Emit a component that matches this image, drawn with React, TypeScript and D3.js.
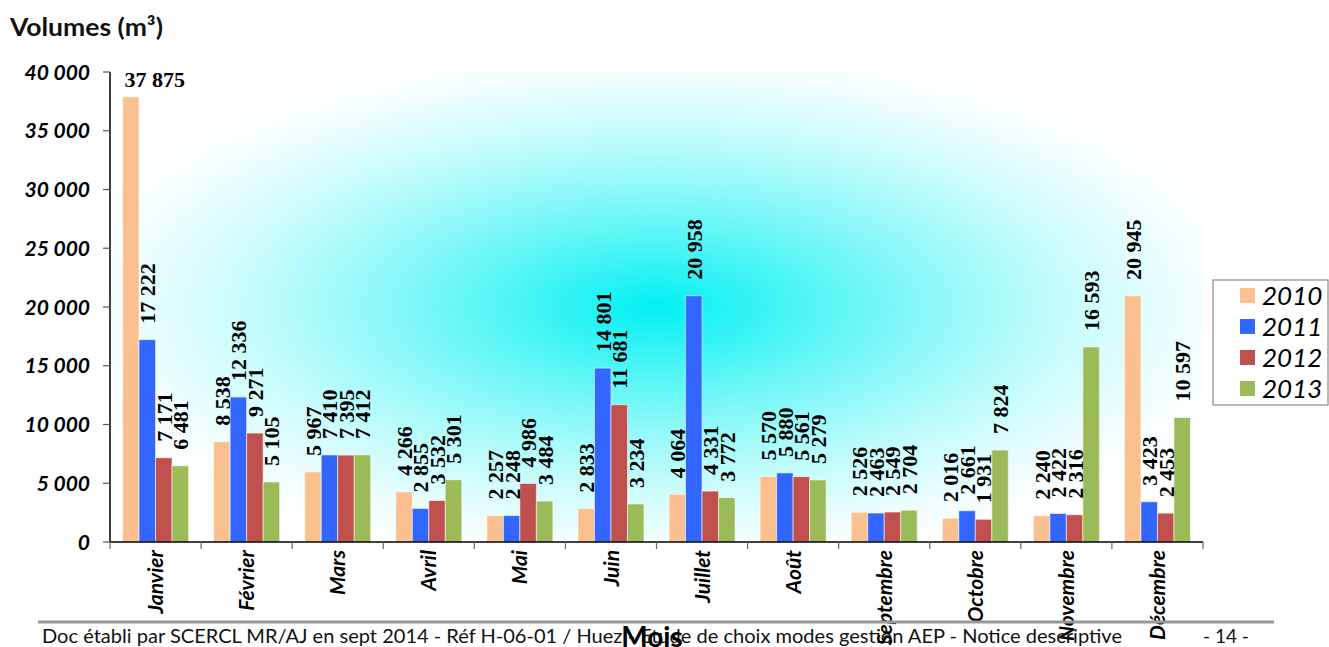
import React from "react";
import * as d3 from "d3";

// Monthly volumes (m³) per year
const months = ["Janvier", "Février", "Mars", "Avril", "Mai", "Juin", "Juillet", "Août", "Septembre", "Octobre", "Novembre", "Décembre"];
const years = ["2010", "2011", "2012", "2013"];
const v2010 = [37875, 8538, 5967, 4266, 2257, 2833, 4064, 5570, 2526, 2016, 2240, 20945];
const v2011 = [17222, 12336, 7410, 2855, 2248, 14801, 20958, 5880, 2463, 2661, 2422, 3423];
const v2012 = [7171, 9271, 7395, 3532, 4986, 11681, 4331, 5561, 2549, 1931, 2316, 2453];
const v2013 = [6481, 5105, 7412, 5301, 3484, 3234, 3772, 5279, 2704, 7824, 16593, 10597];
const yTicks = [0, 5000, 10000, 15000, 20000, 25000, 30000, 35000, 40000];
const seriesColors = ["#FAC090", "#3366FF", "#C0504D", "#9BBB59"];

const yTitle = "Volumes (m³)";
const xTitle = "Mois";
const footerText = "Doc établi par SCERCL MR/AJ en sept 2014 - Réf H-06-01 / Huez - Etude de choix modes gestion AEP - Notice descriptive";
const pageText = "- 14 -";

const series = [v2010, v2011, v2012, v2013];

const SANS = "Lato, 'Open Sans', sans-serif";
const SERIF = "'Liberation Serif', 'Times New Roman', serif";

const W = 1329;
const H = 647;
const plot = { left: 110, right: 1203, top: 72, bottom: 542 };

const fr = d3.formatLocale({ decimal: ",", thousands: " ", grouping: [3], currency: ["", " €"] });
const fmt = fr.format(",d");

export default function App() {
  const x = d3.scaleBand<string>().domain(months).range([plot.left, plot.right]).paddingInner(0).paddingOuter(0);
  const xi = d3.scaleBand<string>().domain(years).range([0, x.bandwidth()]).paddingInner(0).paddingOuter(0.76);
  const y = d3.scaleLinear().domain([0, 40000]).range([plot.bottom, plot.top]);

  const cyan = "#00F0F2";
  const mix = d3.interpolateRgb(cyan, "#ffffff");
  // centre-to-edge falloff of the plot-area fill
  const stops = d3.range(0, 11).map((i) => {
    const t = i / 10; // 0 = centre, 1 = edge
    return { offset: t, color: mix(1 - Math.pow(1 - t, 1.35)) };
  });

  const labelFont = 22;
  const labelGap = 16;

  return (
    <svg width={W} height={H} style={{ position: "absolute", left: 0, top: 0, background: "#fff" }}>
      <defs>
        <radialGradient id="plotFill" cx="0.5" cy="0.5" r="0.56" gradientUnits="objectBoundingBox">
          {stops.map((s, i) => (
            <stop key={i} offset={s.offset} stopColor={s.color} />
          ))}
        </radialGradient>
      </defs>

      {/* plot background */}
      <rect x={plot.left} y={plot.top} width={plot.right - plot.left} height={plot.bottom - plot.top} fill="url(#plotFill)" />

      {/* title */}
      <text x={10} y={36} fontFamily={SANS} fontWeight="bold" fontSize={24} textLength={153} lengthAdjust="spacingAndGlyphs" fill="#111">{yTitle}</text>

      {/* bars */}
      {months.map((m, mi) => (
        <g key={m} transform={`translate(${x(m)},0)`}>
          {years.map((yr, si) => {
            const v = series[si][mi];
            const bx = xi(yr)!;
            return (
              <rect key={yr} x={bx} y={y(v)} width={xi.bandwidth()} height={plot.bottom - y(v)} fill={seriesColors[si]} stroke="rgba(255,255,255,0.55)" strokeWidth={1} />
            );
          })}
        </g>
      ))}

      {/* value labels */}
      {months.map((m, mi) => (
        <g key={m + "-l"}>
          {years.map((yr, si) => {
            const v = series[si][mi];
            const bx = x(m)! + xi(yr)!;
            const bc = bx + xi.bandwidth() / 2;
            const top = y(v) - labelGap;
            const label = fmt(v);
            const approxLen = label.length * labelFont * 0.47;
            if (top - approxLen < plot.top) {
              return (
                <text key={yr} x={bx + 2} y={y(v) - 10} fontFamily={SERIF} fontWeight="bold" fontSize={labelFont} fill="#000">{label}</text>
              );
            }
            return (
              <text key={yr} transform={`translate(${bc},${top}) rotate(-90)`} dy="0.36em" fontFamily={SERIF} fontWeight="bold" fontSize={labelFont} fill="#000">{label}</text>
            );
          })}
        </g>
      ))}

      {/* y axis */}
      <line x1={plot.left} x2={plot.left} y1={plot.top} y2={plot.bottom} stroke="#000" strokeWidth={1.5} />
      {yTicks.map((t) => (
        <g key={t}>
          <line x1={plot.left - 7} x2={plot.left} y1={y(t)} y2={y(t)} stroke="#555" strokeWidth={1.2} />
          <text x={90} y={y(t)} dy="0.36em" textAnchor="end" fontFamily={SANS} fontWeight="bold" fontStyle="italic" fontSize={21} fill="#000">{fmt(t)}</text>
        </g>
      ))}

      {/* x axis */}
      <line x1={plot.left} x2={plot.right} y1={plot.bottom} y2={plot.bottom} stroke="#000" strokeWidth={1.5} />
      {d3.range(months.length + 1).map((i) => {
        const xx = plot.left + i * x.step();
        return <line key={i} x1={xx} x2={xx} y1={plot.bottom} y2={plot.bottom + 7} stroke="#666" strokeWidth={1.2} />;
      })}
      {months.map((m) => (
        <text key={m + "-x"} transform={`translate(${x(m)! + x.bandwidth() / 2},${plot.bottom + 8}) rotate(-90)`} dy="0.36em" textAnchor="end" fontFamily={SANS} fontWeight="bold" fontStyle="italic" fontSize={21} fill="#000">{m}</text>
      ))}

      {/* legend */}
      <rect x={1213} y={280} width={115} height={125} fill="none" stroke="#8c8c8c" strokeWidth={1.2} />
      {years.map((yr, i) => (
        <g key={yr} transform={`translate(1240,${305 + i * 31})`}>
          <rect x={0} y={-17} width={15} height={15} fill={seriesColors[i]} />
          <text x={22} y={0} fontFamily={SANS} fontStyle="italic" fontSize={26} fill="#000">{yr}</text>
        </g>
      ))}

      {/* page footer */}
      <line x1={38} x2={1274} y1={622} y2={622} stroke="#999" strokeWidth={3} />
      <text x={42} y={643} fontFamily={SANS} fontSize={19} textLength={1080} lengthAdjust="spacingAndGlyphs" fill="#111">{footerText}</text>
      <text x={1203} y={643} fontFamily={SANS} fontSize={19} fill="#111">{pageText}</text>

      {/* x axis title */}
      <text x={652} y={647} textAnchor="middle" fontFamily={SANS} fontWeight="bold" fontSize={28} fill="#000">{xTitle}</text>
    </svg>
  );
}
